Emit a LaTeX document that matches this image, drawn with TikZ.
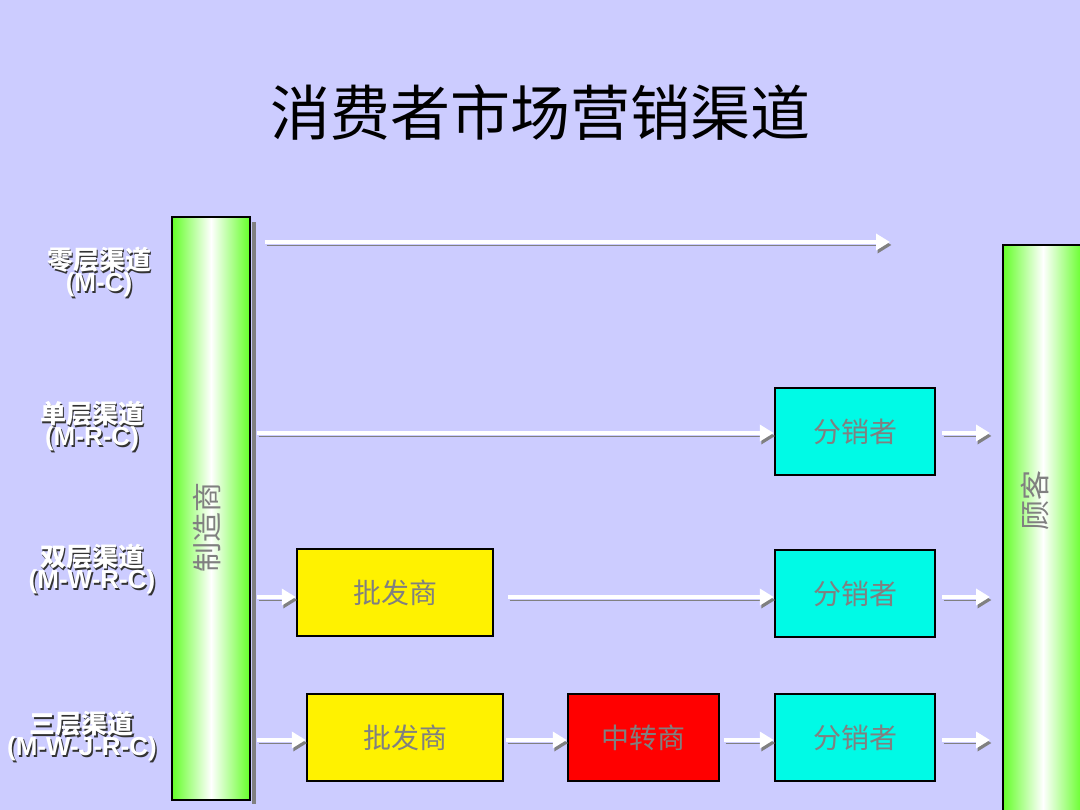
\documentclass[tikz,border=0pt]{standalone}
\usepackage{fontspec}
\setmainfont{Noto Sans CJK SC}
\newfontfamily\lat{Liberation Sans}
\usetikzlibrary{arrows.meta}
\definecolor{bg}{RGB}{204,204,255}
\definecolor{cy}{RGB}{0,250,230}
\definecolor{gr}{RGB}{100,255,40}
\begin{document}
\begin{tikzpicture}[x=1pt,y=-1pt,
  box/.style={draw=black,line width=2.5pt,inner sep=0,font=\fontsize{28}{28}\selectfont,text=gray},
  bar/.style={draw=black,line width=2.5pt,inner sep=0,shading=axis,left color=gr,right color=gr,middle color=white,shading angle=90},
  flow/.style={line width=4pt,draw=white,-{Triangle[length=14pt,width=16pt]},
    preaction={draw=gray,-{Triangle[length=14pt,width=16pt]},transform canvas={shift={(1.5pt,-3pt)}}}},
  lab/.style={align=center,text=white,font=\bfseries\fontsize{26}{22}\selectfont,inner sep=0},
  labs/.style={align=center,text=black!80,font=\bfseries\fontsize{26}{22}\selectfont,inner sep=0}
]
\fill[bg] (0,0) rectangle (1080,810);
\useasboundingbox (0,0) rectangle (1080,810);
\node[font=\fontsize{60}{60}\selectfont] (title) at (540,113) {消费者市场营销渠道};
\fill[gray] (252,222) rectangle (256,804);
\node[bar,minimum width=78,minimum height=583] (m) at (211,508.5) {};
\node[rotate=90,text=gray,font=\fontsize{30}{30}\selectfont] (mt) at (207,527) {制造商};
\node[bar,minimum width=80,minimum height=570] (c) at (1043,530) {};
\node[rotate=90,text=gray,font=\fontsize{30}{30}\selectfont] (ct) at (1035,500) {顾客};
\node[box,fill=cy,minimum width=160,minimum height=87] (d2) at (855,431.5) {分销者};
\node[box,fill=cy,minimum width=160,minimum height=87] (d3) at (855,593.5) {分销者};
\node[box,fill=cy,minimum width=160,minimum height=87] (d4) at (855,737.5) {分销者};
\node[box,fill=yellow,minimum width=196,minimum height=87] (w3) at (395,592.5) {批发商};
\node[box,fill=yellow,minimum width=196,minimum height=87] (w4) at (405,737.5) {批发商};
\node[box,fill=red,minimum width=151,minimum height=87] (j4) at (643.5,737.5) {中转商};
\coordinate (a1s) at (265,242); \coordinate (a1e) at (890,242);
\coordinate (a2s) at (257,433); \coordinate (b2) at (942,433); \coordinate (r2e) at (990,433);
\coordinate (a3s) at (257,597); \coordinate (m3) at (508,597); \coordinate (b3) at (942,597); \coordinate (r3e) at (990,597);
\coordinate (a4s) at (257,740); \coordinate (m4) at (506,740); \coordinate (n4) at (724,740); \coordinate (b4) at (942,740); \coordinate (r4e) at (990,740);
\draw[flow] (a1s) -- (a1e);
\draw[flow] (a2s) -- (a2s -| d2.west);
\draw[flow] (b2) -- (r2e);
\draw[flow] (a3s) -- (a3s -| w3.west);
\draw[flow] (m3) -- (m3 -| d3.west);
\draw[flow] (b3) -- (r3e);
\draw[flow] (a4s) -- (a4s -| w4.west);
\draw[flow] (m4) -- (m4 -| j4.west);
\draw[flow] (n4) -- (n4 -| d4.west);
\draw[flow] (b4) -- (r4e);
\foreach \n/\x/\y/\t in {l1/99/272/{零层渠道\\{\lat(M-C)}},l2/92/426/{单层渠道\\{\lat(M-R-C)}},l3/92/569/{双层渠道\\{\lat(M-W-R-C)}},l4/82/736/{三层渠道\\{\lat(M-W-J-R-C)}}}{
  \node[labs] (\n s) at (\x+1.5,\y+2) {\t};
  \node[lab] (\n) at (\x,\y) {\t};
}
\end{tikzpicture}
\end{document}
